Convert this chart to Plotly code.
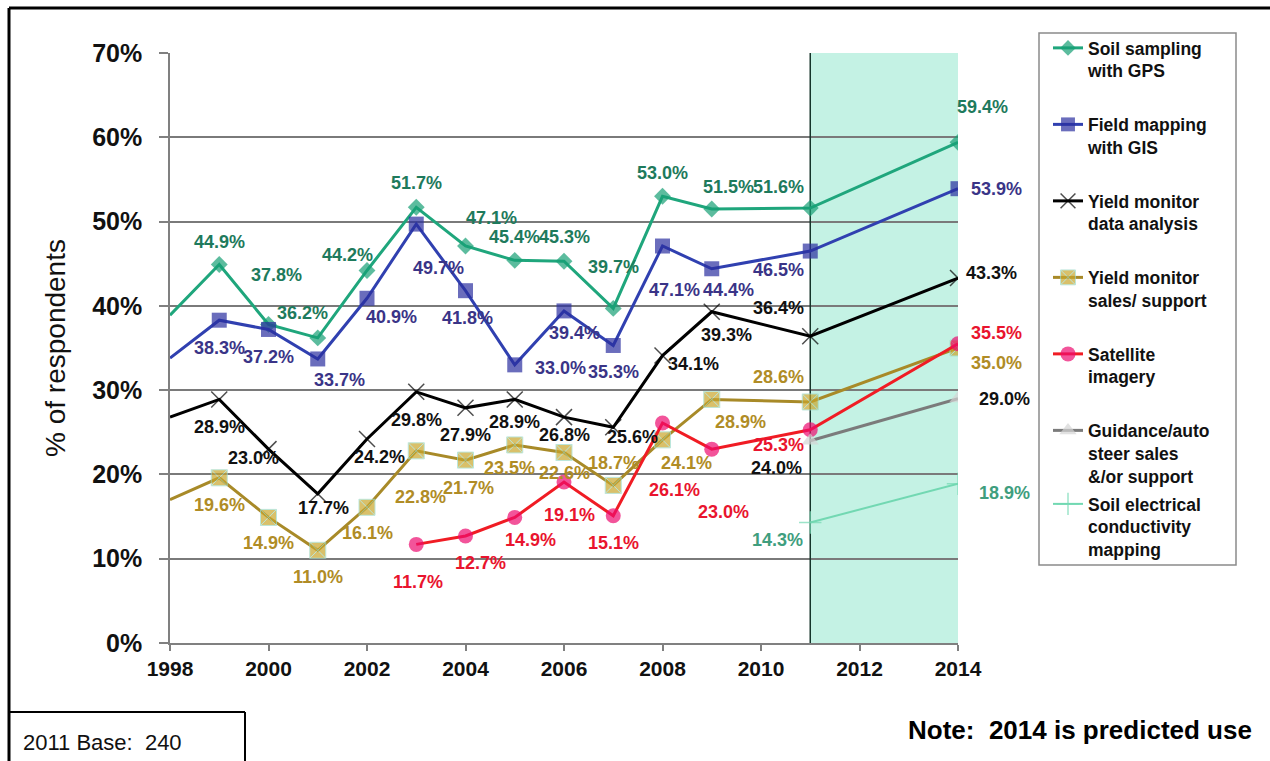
import plotly.graph_objects as go

# ---------------- data ----------------
years = [1998, 1999, 2000, 2001, 2002, 2003, 2004, 2005, 2006, 2007, 2008, 2009, 2011, 2014]
gps = [38.9, 44.9, 37.8, 36.2, 44.2, 51.7, 47.1, 45.4, 45.3, 39.7, 53.0, 51.5, 51.6, 59.4]
gis = [33.8, 38.3, 37.2, 33.7, 40.9, 49.7, 41.8, 33.0, 39.4, 35.3, 47.1, 44.4, 46.5, 53.9]
ym_analysis = [26.8, 28.9, 23.0, 17.7, 24.2, 29.8, 27.9, 28.9, 26.8, 25.6, 34.1, 39.3, 36.4, 43.3]
ym_sales = [17.0, 19.6, 14.9, 11.0, 16.1, 22.8, 21.7, 23.5, 22.6, 18.7, 24.1, 28.9, 28.6, 35.0]
sat_years = [2003, 2004, 2005, 2006, 2007, 2008, 2009, 2011, 2014]
satellite = [11.7, 12.7, 14.9, 19.1, 15.1, 26.1, 23.0, 25.3, 35.5]
new_years = [2011, 2014]
guidance = [24.0, 29.0]
soil_ec = [14.3, 18.9]

names = ["Soil sampling<br>with GPS", "Field mapping<br>with GIS", "Yield monitor<br>data analysis",
         "Yield monitor<br>sales/ support", "Satellite<br>imagery",
         "Guidance/auto<br>steer sales<br>&/or support", "Soil electrical<br>conductivity<br>mapping"]
x_ticks = [1998, 2000, 2002, 2004, 2006, 2008, 2010, 2012, 2014]

# ---------------- label offsets (pixels; dx right, dy down) ----------------
off_gps = [(0, -23), (8, -49), (-15, -25), (-20, -15), (0, -24), (26, -28), (0, -23), (0, -24),
           (0, -41), (0, -23), (17, -22), (-32, -21), (24, -35)]
off_gis = [(0, 28), (0, 28), (22, 21), (24, 19), (22, 44), (2, 27), (46, 3), (10, 22), (0, 27),
           (12, 44), (17, 21), (-32, 19), (38, 0)]
off_yma = [(0, 28), (-15, 9), (6, 14), (12, 18), (0, 28), (0, 27), (0, 23), (0, 18), (19, 10),
           (31, 8), (15, 23), (-32, -28), (33, -5)]
off_yms = [(0, 27), (0, 26), (0, 27), (0, 26), (4, 46), (3, 28), (-5, 23), (0, 20), (0, -22),
           (24, 23), (29, 23), (-32, -25), (38, 15)]
off_sat = [(2, 38), (15, 27), (16, 23), (5, 33), (0, 27), (12, 67), (12, 63), (-32, 15), (38, -11)]
off_gui = [(-34, 27), (46, 0)]
off_ec = [(-33, 18), (46, 9)]

FONT = "Arial, Liberation Sans, sans-serif"

L, R, T, B = 170, 958, 53, 643
W, H = R - L, B - T
def px(xp):
    return (xp - L) / W
def py(yp):
    return (B - yp) / H

fig = go.Figure()

def add_series(x, y, name, line_color, marker, legend="legend", hide_first=False, lw=3):
    sizes = [marker.get("size", 10)] * len(x)
    if hide_first:
        sizes[0] = 0
    m = dict(marker)
    m["size"] = sizes
    fig.add_trace(go.Scatter(x=x, y=y, name=name, mode="lines+markers",
                             line=dict(color=line_color, width=lw),
                             marker=m, legendgroup=name, legend=legend, cliponaxis=True))

add_series(years, gps, names[0], "#1fa67c",
           dict(symbol="diamond", size=13, color="#17a075", line=dict(width=0)), hide_first=True)
add_series(years, gis, names[1], "#3040b0",
           dict(symbol="square", size=15, color="#2b2f9f", line=dict(width=0)), hide_first=True)
add_series(years, ym_analysis, names[2], "#000000",
           dict(symbol="x-thin-open", size=16, color="#000000", line=dict(width=1.5, color="#000000")),
           hide_first=True)
add_series(years, ym_sales, names[3], "#a88a28",
           dict(symbol="square-x", size=16, color="#c9a62c", line=dict(width=1, color="#9fdccc")),
           hide_first=True)
add_series(sat_years, satellite, names[4], "#f01c24",
           dict(symbol="circle", size=15, color="#ec0b6f", line=dict(width=0)))
add_series(new_years, guidance, names[5], "#7b7b7b",
           dict(symbol="triangle-up", size=15, color="#d4d4d4", line=dict(width=0)))
add_series(new_years, soil_ec, names[6], "#72d8b2",
           dict(symbol="cross-thin-open", size=16, color="#72d8b2", line=dict(width=1.5, color="#72d8b2")),
           legend="legend2", lw=2)

annotations = []

def add_labels(x, y, offs, color, skip_first=False):
    xs = x[1:] if skip_first else x
    ys = y[1:] if skip_first else y
    for xi, yi, (dx, dy) in zip(xs, ys, offs):
        annotations.append(dict(x=xi, y=yi, xref="x", yref="y", text=f"{yi:.1f}%",
                                showarrow=False, xshift=dx, yshift=-dy,
                                font=dict(family=FONT, size=18, color=color, weight="bold")))

add_labels(years, gps, off_gps, "#1e7a5c", skip_first=True)
add_labels(years, gis, off_gis, "#3a3487", skip_first=True)
add_labels(years, ym_analysis, off_yma, "#111111", skip_first=True)
add_labels(years, ym_sales, off_yms, "#b08c26", skip_first=True)
add_labels(sat_years, satellite, off_sat, "#e9142e")
add_labels(new_years, guidance, off_gui, "#111111")
add_labels(new_years, soil_ec, off_ec, "#3f9e7e")

annotations.append(dict(x=px(1254), y=py(730), xref="paper", yref="paper",
                        text="Note:  2014 is predicted use",
                        showarrow=False, xanchor="right", yanchor="middle",
                        font=dict(family=FONT, size=26, color="#000000", weight="bold")))
annotations.append(dict(x=px(21), y=py(742), xref="paper", yref="paper", text="2011 Base:  240",
                        showarrow=False, xanchor="left", yanchor="middle",
                        font=dict(family=FONT, size=22, color="#111111")))

shapes = [
    dict(type="rect", xref="x", yref="y", x0=2011, x1=2014, y0=0, y1=70,
         fillcolor="#c4f2e4", line=dict(width=0), layer="below"),
    dict(type="line", xref="x", yref="y", x0=2011, x1=2011, y0=0, y1=70,
         line=dict(color="#16352a", width=1.5), layer="between"),
    # legend frame
    dict(type="rect", xref="paper", yref="paper", x0=px(1039), x1=px(1236), y0=py(565), y1=py(33),
         line=dict(color="#8a8a8a", width=1.5), fillcolor="rgba(0,0,0,0)"),
    # outer frame (top & left)
    dict(type="line", xref="paper", yref="paper", x0=px(9), x1=px(1275), y0=py(8), y1=py(8),
         line=dict(color="#000000", width=3)),
    dict(type="line", xref="paper", yref="paper", x0=px(9), x1=px(9), y0=py(8), y1=py(770),
         line=dict(color="#000000", width=3)),
    # base box
    dict(type="line", xref="paper", yref="paper", x0=px(9), x1=px(245), y0=py(712), y1=py(712),
         line=dict(color="#000000", width=2)),
    dict(type="line", xref="paper", yref="paper", x0=px(245), x1=px(245), y0=py(712), y1=py(770),
         line=dict(color="#000000", width=2)),
]

legend_font = dict(family=FONT, size=17.5, color="#111111", weight="bold")
fig.update_layout(
    width=1270, height=761,
    margin=dict(l=L, r=1270 - R, t=T, b=761 - B, pad=0),
    paper_bgcolor="#ffffff", plot_bgcolor="rgba(0,0,0,0)",
    showlegend=True,
    legend=dict(x=px(1048), y=py(30), xanchor="left", yanchor="top", valign="top",
                bgcolor="rgba(0,0,0,0)", borderwidth=0, tracegroupgap=28, maxheight=700,
                font=legend_font, itemwidth=30),
    legend2=dict(x=px(1048), y=py(486), xanchor="left", yanchor="top", valign="top",
                 bgcolor="rgba(0,0,0,0)", borderwidth=0, maxheight=300,
                 font=legend_font, itemwidth=30),
    annotations=annotations,
    shapes=shapes,
    xaxis=dict(range=[1998, 2014], tickvals=x_ticks, ticks="outside", ticklen=6, tickwidth=1.5,
               tickcolor="#808080", showline=True, linecolor="#808080", linewidth=1.5,
               showgrid=False, zeroline=False,
               tickfont=dict(family=FONT, size=21, color="#111111", weight="bold")),
    yaxis=dict(range=[0, 70], dtick=10, ticksuffix="%", ticks="outside", ticklen=9, tickwidth=1.5,
               tickcolor="#808080", showline=True, linecolor="#808080", linewidth=1.5,
               showgrid=True, gridcolor="#7a7a7a", gridwidth=1.5, zeroline=False,
               ticklabelstandoff=12,
               tickfont=dict(family=FONT, size=25, color="#111111", weight="bold"),
               title=dict(text="% of respondents", standoff=18,
                          font=dict(family=FONT, size=28, color="#111111"))),
)

fig.write_html("out.html", config={"displayModeBar": False},
               post_script="document.body.style.margin='0';document.body.style.overflow='hidden';")
